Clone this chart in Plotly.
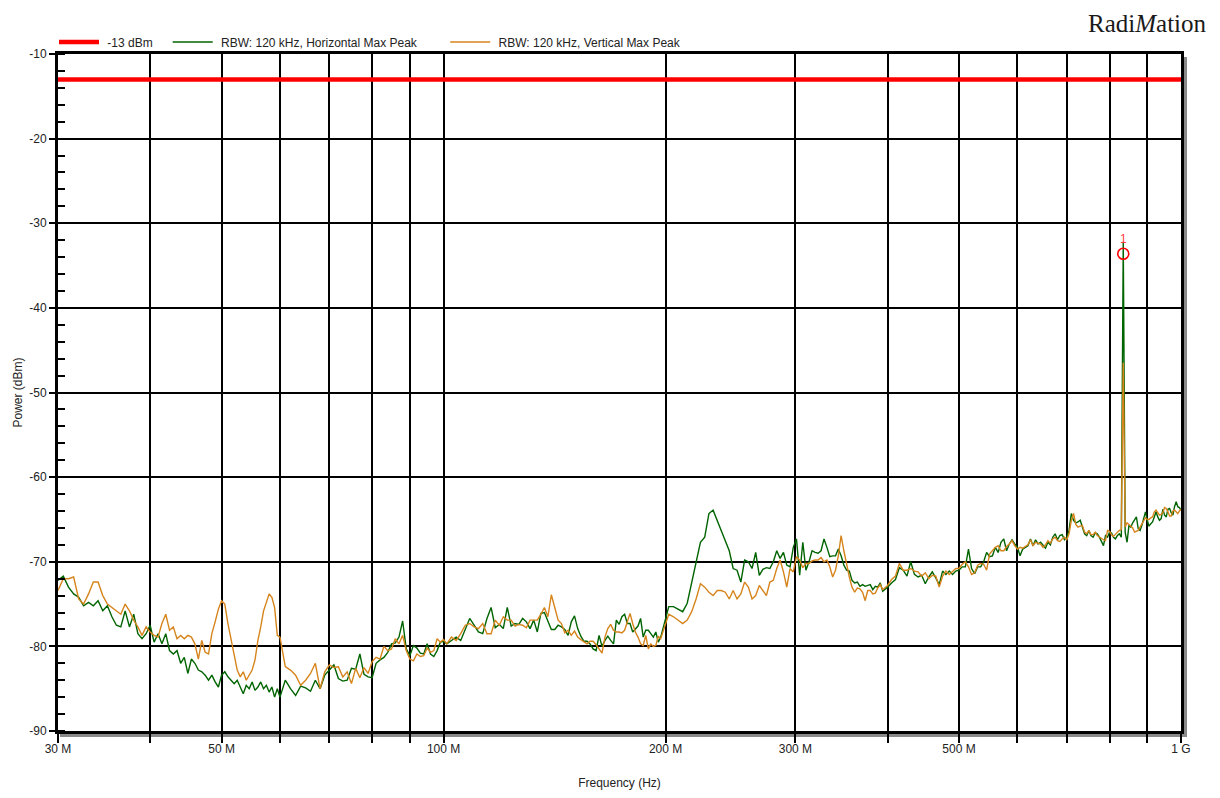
import plotly.graph_objects as go

# ---------------- data ----------------
# sweep frequencies in MHz
freq_mhz = [
    30, 30.5, 31, 31.5, 32, 32.5, 33, 33.5, 34, 34.5, 35, 35.5, 36, 36.5, 37, 37.5, 38, 38.5, 39, 39.5,
    40, 40.5, 41, 41.5, 42, 42.5, 43, 43.5, 44, 44.5, 45, 45.5, 46, 46.5, 47, 47.5, 48, 48.5, 49, 49.5,
    50, 50.5, 51, 51.5, 52, 52.5, 53, 53.5, 54, 54.5, 55, 55.5, 56, 56.5, 57, 57.5, 58, 58.5, 59, 59.5, 60,
    61, 62, 63, 64, 65, 66, 67, 68, 69, 70, 71, 72, 73, 74, 75, 76, 77, 78, 79, 80,
    81, 82, 83, 84, 85, 86, 87, 88, 89, 90, 91, 92, 93, 94, 95, 96, 97, 98, 99, 100,
    101, 102.5, 104, 105.5, 107, 108.5, 110, 111.5, 113, 114.5, 116, 117.5, 119, 120.5, 122, 123.5,
    125, 126.5, 128, 129.5, 131, 132.5, 134, 135.5, 137, 138.5, 140, 141.5, 143, 144.5, 146, 147.5,
    149, 150.5, 152, 153.5, 155, 156.5, 158, 159.5, 161, 162.5, 164, 165.5, 167, 168.5, 170, 171.5,
    173, 174.5, 176, 177.5, 179, 180.5, 182, 183.5, 185, 186.5, 188, 189.5, 191, 192.5, 194, 195.5,
    197, 198.5, 200,
    202, 205, 208, 211, 214, 217, 220, 223, 226, 229, 232, 235, 238, 241, 244, 247, 250, 253, 256, 259,
    262, 265, 268, 271, 274, 277, 280, 283, 286, 289, 292, 295, 298, 301, 304, 307, 310, 313, 316, 319,
    322, 325, 328, 331, 334, 337, 340, 343, 346, 349, 352, 355, 358, 361, 364, 367, 370, 373, 376, 379,
    382, 385, 388, 391, 394, 397, 400,
    405, 410, 415, 420, 425, 430, 435, 440, 445, 450, 455, 460, 465, 470, 475, 480, 485, 490, 495, 500,
    505, 510, 515, 520, 525, 530, 535, 540, 545, 550, 555, 560, 565, 570, 575, 580, 585, 590, 595, 600,
    605, 610, 615, 620, 625, 630, 635, 640, 645, 650, 655, 660, 665, 670, 675, 680, 685, 690, 695, 700,
    705, 710, 715, 720, 725, 730, 735, 740, 745, 750, 755, 760, 765, 770, 775, 780, 785, 790, 795, 800,
    805, 810, 815, 820, 825, 830, 835, 840, 845, 850, 855, 860, 865, 870, 875, 880, 885, 890, 895, 900,
    905, 910, 915, 920, 925, 930, 935, 940, 945, 950, 955, 960, 965, 970, 975, 980, 985, 990, 995, 1000,
]

# RBW: 120 kHz, Horizontal Max Peak (dBm)
horizontal_dbm = [
    -72.2, -71.7, -73.0, -73.8, -74.2, -75.2, -74.8, -75.2, -74.6, -75.8, -75.2, -76.5, -77.5, -77.7, -75.8, -77.7, -76.2, -78.5, -79.1, -78.5,
    -77.5, -79.5, -78.5, -79.7, -78.5, -80.5, -80.9, -80.5, -82.0, -81.3, -83.2, -81.5, -82.0, -82.8, -83.0, -83.4, -84.0, -83.4, -84.2, -84.8,
    -83.4, -83.0, -83.6, -84.0, -84.4, -84.0, -84.8, -85.6, -84.6, -85.0, -84.2, -85.2, -84.8, -84.2, -85.0, -84.6, -85.4, -84.8, -86.0, -85.0, -86.0,
    -84.0, -85.0, -85.8, -84.7, -84.9, -85.3, -84.0, -85.0, -83.4, -82.8, -82.2, -83.8, -84.1, -84.0, -82.6, -82.7, -80.9, -83.3, -83.6, -83.7,
    -82.0, -81.6, -81.3, -80.7, -79.7, -79.6, -78.9, -77.0, -80.3, -81.1, -79.9, -80.2, -80.8, -80.9, -79.7, -80.9, -81.2, -80.5, -79.5, -79.4,
    -79.7, -79.3, -78.9, -79.3, -77.9, -76.7, -77.5, -78.3, -78.5, -76.7, -75.4, -77.8, -77.4, -77.9, -75.4, -77.6,
    -77.3, -77.4, -76.7, -77.1, -77.9, -76.9, -78.3, -76.1, -76.0, -77.0, -78.0, -78.0, -77.5, -77.7, -78.0, -78.7,
    -77.1, -76.4, -77.9, -78.8, -79.4, -79.4, -79.7, -80.3, -80.5, -78.7, -80.0, -79.3, -78.8, -79.3, -79.7, -76.9,
    -77.4, -76.5, -76.2, -77.3, -77.3, -78.3, -78.0, -77.6, -76.7, -78.9, -78.1, -78.1, -78.5, -78.9, -78.3, -79.5,
    -78.9, -77.8, -76.9,
    -75.3, -75.3, -75.6, -75.9, -74.9, -72.6, -70.2, -67.7, -67.1, -64.3, -63.9, -65.1, -66.5, -67.5, -68.7, -70.8, -71.0, -72.4, -69.8, -70.0,
    -70.8, -68.9, -71.6, -70.9, -70.7, -70.8, -70.0, -68.7, -69.6, -68.9, -70.4, -70.6, -68.3, -67.3, -71.6, -67.7, -71.0, -70.0, -68.7, -68.9,
    -69.0, -68.7, -67.3, -68.3, -69.4, -69.3, -69.3, -68.5, -69.3, -70.4, -71.0, -71.1, -72.2, -72.5, -72.4, -72.9, -72.7, -72.9, -72.8, -72.7,
    -73.3, -72.9, -73.0, -72.5, -73.5, -73.3, -73.0,
    -72.5, -72.1, -70.7, -71.0, -71.7, -70.0, -71.5, -71.8, -71.6, -72.6, -71.8, -71.2, -71.9, -72.7, -71.1, -71.5, -71.1, -71.5, -71.1, -71.0,
    -70.6, -70.6, -68.5, -70.8, -71.4, -70.6, -70.6, -70.0, -68.9, -69.4, -69.3, -68.3, -68.9, -67.7, -67.3, -68.7, -67.9, -67.4, -67.9, -68.3,
    -69.3, -68.5, -68.3, -68.1, -67.3, -68.1, -67.4, -67.9, -67.7, -68.1, -68.4, -67.7, -68.0, -67.1, -66.7, -67.4, -66.9, -66.8, -67.4, -67.1,
    -66.3, -64.3, -65.1, -65.4, -65.3, -65.1, -65.8, -66.7, -66.9, -66.3, -66.9, -67.1, -66.6, -66.7, -67.1, -67.7, -68.1, -66.9, -67.1, -66.5,
    -66.6, -67.1, -67.3, -66.9, -66.7, -67.1, -32.2, -66.5, -67.7, -65.7, -65.9, -65.4, -65.1, -64.7, -66.1, -66.3, -65.7, -64.9, -64.1, -65.1,
    -65.8, -65.5, -65.3, -64.7, -64.1, -64.7, -65.1, -64.9, -63.8, -64.5, -64.7, -63.8, -63.7, -64.2, -64.5, -63.5, -62.9, -63.5, -63.6, -63.9,
]

# RBW: 120 kHz, Vertical Max Peak (dBm)
vertical_dbm = [
    -73.4, -72.0, -72.0, -71.8, -74.4, -75.0, -73.8, -72.4, -72.4, -74.0, -75.0, -75.4, -75.8, -76.2, -75.0, -75.8, -76.9, -77.7, -78.7, -77.7,
    -78.3, -78.7, -78.9, -77.3, -76.2, -78.1, -77.7, -79.1, -78.7, -79.1, -78.7, -78.9, -79.7, -81.5, -79.3, -80.7, -80.9, -78.5, -77.1, -75.6,
    -74.6, -75.0, -77.3, -79.1, -80.9, -82.8, -83.6, -83.0, -84.0, -83.4, -82.8, -81.6, -79.3, -77.7, -75.8, -74.8, -73.8, -74.2, -75.4, -78.7, -78.9,
    -82.4, -82.8, -83.4, -84.6, -84.0, -83.2, -82.0, -85.0, -83.0, -82.2, -82.5, -82.4, -83.6, -83.0, -84.4, -82.6, -83.7, -82.5, -83.2, -81.8,
    -81.3, -81.5, -80.0, -80.5, -80.3, -79.1, -79.7, -78.7, -80.5, -81.5, -81.7, -80.9, -81.2, -81.1, -80.2, -80.7, -80.5, -79.1, -79.5, -79.2,
    -79.7, -78.9, -79.3, -78.5, -77.5, -77.3, -77.7, -77.9, -77.3, -78.5, -78.5, -76.9, -77.5, -76.5, -76.9, -76.9,
    -77.6, -77.4, -77.5, -77.8, -76.9, -76.9, -76.9, -76.2, -75.4, -76.5, -73.9, -75.4, -76.9, -77.3, -78.4, -78.1,
    -78.7, -78.2, -78.9, -79.2, -79.5, -79.7, -79.4, -79.4, -79.8, -80.3, -80.8, -78.9, -77.9, -77.4, -78.1, -78.3,
    -78.3, -78.4, -78.1, -77.1, -76.1, -77.3, -78.3, -78.9, -79.7, -79.9, -78.7, -80.3, -79.7, -80.0, -79.9, -78.8,
    -79.1, -78.2, -77.3,
    -76.2, -76.5, -76.9, -77.3, -76.9, -75.9, -74.4, -72.6, -73.0, -73.6, -74.0, -73.4, -73.4, -73.6, -74.4, -73.4, -74.4, -73.8, -72.4, -73.0,
    -74.4, -74.0, -72.8, -73.4, -74.0, -72.4, -72.2, -70.8, -69.8, -71.2, -73.0, -70.8, -71.2, -69.4, -69.8, -70.7, -70.2, -70.2, -69.9, -69.8,
    -69.8, -69.5, -70.0, -69.8, -70.6, -71.8, -71.0, -69.3, -66.9, -68.7, -70.4, -71.8, -73.0, -73.6, -73.1, -73.2, -73.6, -74.6, -73.4, -73.4,
    -73.8, -73.7, -73.1, -72.7, -73.3, -73.0, -72.8,
    -72.1, -71.7, -70.2, -71.0, -71.0, -70.8, -71.1, -71.2, -71.7, -71.3, -72.0, -71.6, -71.7, -73.0, -71.7, -71.1, -71.5, -71.1, -70.8, -70.8,
    -70.3, -70.0, -70.6, -71.5, -71.3, -70.4, -70.2, -70.3, -71.0, -69.1, -68.7, -68.3, -68.1, -68.7, -68.7, -68.2, -67.9, -67.5, -68.1, -68.5,
    -68.3, -68.4, -68.2, -68.0, -67.4, -68.1, -67.7, -67.8, -67.9, -68.3, -68.0, -67.5, -67.8, -67.3, -67.1, -67.5, -67.6, -67.3, -67.1, -67.4,
    -66.7, -65.1, -64.3, -65.6, -65.9, -65.8, -65.7, -66.5, -66.7, -66.3, -66.8, -66.8, -66.5, -66.9, -67.1, -67.3, -67.4, -67.5, -66.3, -66.4,
    -66.8, -67.0, -66.7, -66.5, -66.3, -66.2, -46.5, -65.9, -65.4, -65.6, -65.7, -66.0, -66.5, -66.4, -66.3, -65.9, -65.5, -65.1, -64.8, -65.0,
    -65.0, -64.8, -64.7, -64.1, -63.9, -64.2, -64.5, -64.4, -64.2, -63.6, -63.7, -64.1, -64.6, -64.6, -64.0, -63.9, -64.1, -64.3, -64.0, -63.8,
]

limit_freq_mhz = [30, 1000]
limit_dbm = [-13, -13]

peak_marker_freq_mhz = [835]
peak_marker_dbm = [-33.6]
peak_marker_label = ["1"]

x_tick_mhz = [30, 40, 50, 60, 70, 80, 90, 100, 200, 300, 400, 500, 600, 700, 800, 900, 1000]
x_tick_text = ["30 M", "", "50 M", "", "", "", "", "100 M", "200 M", "300 M", "", "500 M", "", "", "", "", "1 G"]
y_tick_vals = [-90, -80, -70, -60, -50, -40, -30, -20, -10]
y_tick_text = ["-90", "-80", "-70", "-60", "-50", "-40", "-30", "-20", "-10"]

assert len(freq_mhz) == len(horizontal_dbm) == len(vertical_dbm), (len(freq_mhz), len(horizontal_dbm), len(vertical_dbm))

MHZ = 1e6
FONT = "Liberation Sans Narrow, Liberation Sans, Arial, sans-serif"
NBSP = "\u00a0"

fig = go.Figure()
fig.add_trace(go.Scatter(
    x=[f * MHZ for f in limit_freq_mhz], y=limit_dbm, mode="lines",
    name=NBSP + "-13 dBm" + NBSP * 3,
    line=dict(color="#ff0000", width=4.5),
))
fig.add_trace(go.Scatter(
    x=[f * MHZ for f in freq_mhz], y=horizontal_dbm, mode="lines",
    name=NBSP + "RBW: 120 kHz, Horizontal Max Peak" + NBSP * 7,
    line=dict(color="#006400", width=1.4),
))
fig.add_trace(go.Scatter(
    x=[f * MHZ for f in freq_mhz], y=vertical_dbm, mode="lines",
    name=NBSP + "RBW: 120 kHz, Vertical Max Peak",
    line=dict(color="#d6841c", width=1.4),
))
fig.add_trace(go.Scatter(
    x=[f * MHZ for f in peak_marker_freq_mhz], y=peak_marker_dbm, mode="markers+text",
    text=peak_marker_label, textposition="top center",
    textfont=dict(color="#ff3b3b", size=12, family=FONT),
    marker=dict(symbol="circle-open", size=11, color="#ff0000", line=dict(width=1.6)),
    showlegend=False, hoverinfo="skip",
))

fig.update_layout(
    width=1220, height=798,
    margin=dict(l=50, r=47, t=46, b=75, autoexpand=False),
    paper_bgcolor="white", plot_bgcolor="white",
    font=dict(family=FONT, size=12, color="#222222"),
    showlegend=True,
    legend=dict(orientation="h", xref="container", yref="container",
                x=46 / 1220, xanchor="left", y=1 - 34 / 798, yanchor="middle",
                font=dict(size=12, family=FONT, color="#222222"),
                bgcolor="rgba(0,0,0,0)", itemwidth=40, tracegroupgap=0),
)

fig.update_xaxes(
    type="log", range=[7.477121254719663, 9.0],
    tickmode="array", tickvals=[f * MHZ for f in x_tick_mhz], ticktext=x_tick_text,
    ticks="outside", ticklen=9, tickwidth=2, tickcolor="black", ticklabelstandoff=-4,
    showgrid=True, gridcolor="black", gridwidth=1.5,
    showline=True, linecolor="black", linewidth=3, mirror=True,
    zeroline=False, automargin=False,
    tickfont=dict(size=12, family=FONT, color="#222222"),
    title=dict(text="Frequency (Hz)", font=dict(size=12, family=FONT, color="#222222"), standoff=24),
)
fig.update_yaxes(
    range=[-90, -10],
    tickmode="array", tickvals=y_tick_vals, ticktext=y_tick_text,
    ticks="outside", ticklen=6, tickwidth=1.5, tickcolor="black",
    minor=dict(ticks="inside", dtick=2, tick0=-10, ticklen=7, tickwidth=1.5, tickcolor="black", showgrid=False),
    showgrid=True, gridcolor="black", gridwidth=1.5,
    showline=True, linecolor="black", linewidth=3, mirror=True,
    zeroline=False, automargin=False,
    tickfont=dict(size=12, family=FONT, color="#222222"),
    title=dict(text="Power (dBm)", font=dict(size=12, family=FONT, color="#222222"), standoff=5),
)

# drop shadow of the plot frame (bottom and right)
fig.add_shape(type="rect", layer="below", xref="paper", yref="paper",
              xsizemode="pixel", ysizemode="pixel", xanchor=0, yanchor=0,
              x0=2, x1=1129, y0=-1, y1=-6, fillcolor="#8a8a8a", line=dict(width=0))
fig.add_shape(type="rect", layer="below", xref="paper", yref="paper",
              xsizemode="pixel", ysizemode="pixel", xanchor=1, yanchor=1,
              x0=0, x1=6, y0=-3, y1=-683, fillcolor="#8a8a8a", line=dict(width=0))

# brand logo, top right (box kept fully inside the figure)
fig.add_annotation(
    text="Radi<i>M</i>ation", xref="paper", yref="paper",
    x=1.024, y=1 + 45 / 677, xanchor="right", yanchor="top", showarrow=False,
    borderpad=0,
    font=dict(family="Liberation Serif, DejaVu Serif, serif", size=25, color="#1a1a1a"),
)

fig.write_html("out.html")
